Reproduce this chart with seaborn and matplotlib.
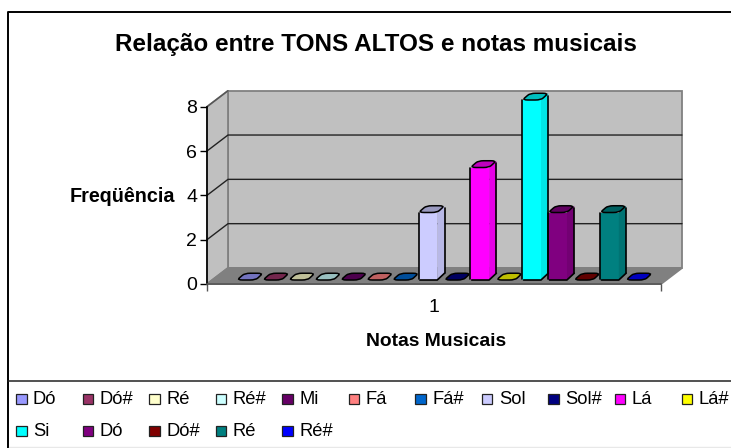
import matplotlib
matplotlib.use("Agg")
import matplotlib.pyplot as plt
from matplotlib.colors import to_rgb
from matplotlib.patches import PathPatch, Polygon, Rectangle
from matplotlib.path import Path
import pandas as pd
import seaborn as sns

# ==================================
# DATA
# ==================================

notas = ["Dó", "Dó#", "Ré", "Ré#", "Mi", "Fá", "Fá#", "Sol", "Sol#", "Lá", "Lá#",
         "Si", "Dó", "Dó#", "Ré", "Ré#"]
frequencia = [0, 0, 0, 0, 0, 0, 0, 3, 0, 5, 0, 8, 3, 0, 3, 0]
cores = ["#9999FF", "#993366", "#FFFFCC", "#CCFFFF", "#660066", "#FF8080", "#0066CC", "#CCCCFF",
         "#000080", "#FF00FF", "#FFFF00", "#00FFFF", "#800080", "#800000", "#008080", "#0000FF"]
y_ticks = [0, 2, 4, 6, 8]
titulo = "Relação entre TONS ALTOS e notas musicais"

W, H = 731, 448


def px_axes(fig, left, top, right, bottom, **kw):
    return fig.add_axes([left / W, 1 - bottom / H, (right - left) / W, (bottom - top) / H], **kw)


def shade(color, k):
    return tuple(c * k for c in to_rgb(color))


def rounded(pts, t=0.3):
    # closed path with each corner replaced by a curve
    verts, codes = [], []
    n = len(pts)
    for i in range(n):
        px0, py0 = pts[i - 1]
        cx, cy = pts[i]
        nx, ny = pts[(i + 1) % n]
        a = (cx + (px0 - cx) * t, cy + (py0 - cy) * t)
        b = (cx + (nx - cx) * t, cy + (ny - cy) * t)
        verts += [a, (cx, cy), b]
        codes += [Path.MOVETO if i == 0 else Path.LINETO, Path.CURVE3, Path.CURVE3]
    verts.append(verts[0])
    codes.append(Path.CLOSEPOLY)
    return Path(verts, codes)


sns.set_style("white")
plt.rcParams["font.family"] = ["Liberation Sans", "DejaVu Sans"]
plt.rcParams["text.color"] = "black"
plt.rcParams["xtick.labelcolor"] = "black"
plt.rcParams["ytick.labelcolor"] = "black"

fig = plt.figure(figsize=(W / 100, H / 100), dpi=100)

# ==================================
# BACKGROUND, WALLS, LEGEND (pixel coordinates)
# ==================================

bg = px_axes(fig, 0, 0, W, H, zorder=0)
bg.set_xlim(0, W)
bg.set_ylim(H, 0)
bg.axis("off")

# chart frame
bg.plot([8, 8, 731], [448, 12, 12], color="black", lw=1.4)
bg.plot([8, 731], [381.5, 381.5], color="#222222", lw=1.1)
bg.plot([9, 731], [447.5, 447.5], color="#E8E8E8", lw=1)

# walls and floor
dx, dy = 21, -16
x0, x1, y0, y8 = 207, 661, 284, 106.7
bg.add_patch(Polygon([(x0 + dx, y8 + dy), (x1 + dx, y8 + dy), (x1 + dx, y0 + dy), (x0 + dx, y0 + dy)],
                     fc="#C0C0C0", ec="#808080", lw=1.3))
bg.add_patch(Polygon([(x0, y8), (x0 + dx, y8 + dy), (x0 + dx, y0 + dy), (x0, y0)],
                     fc="#C0C0C0", ec="#808080", lw=1.3))
bg.add_patch(Polygon([(x0, y0), (x0 + dx, y0 + dy), (x1 + dx, y0 + dy), (x1, y0)],
                     fc="#808080", ec="#808080", lw=1.3))
for t in y_ticks[1:-1]:
    yy = y0 + (y8 - y0) * t / 8
    bg.plot([x0, x0 + dx, x1 + dx], [yy, yy + dy, yy + dy], color="#222222", lw=1)
bg.plot([x0, x0 + dx], [y8, y8 + dy], color="#555555", lw=1)

# legend
for i, (nome, cor) in enumerate(zip(notas, cores)):
    col = i if i < 11 else i - 11
    row = 0 if i < 11 else 1
    lx = 16 + col * 66.55
    ly = 399 + row * 32
    bg.add_patch(Rectangle((lx, ly - 5), 10.5, 10.5, fc=cor, ec="#222222", lw=0.9))
    bg.text(lx + 17, ly + 0.5, nome, fontsize=13.2, va="center", ha="left", color="black")

bg.text(375.5, 44, titulo, fontsize=17.5, fontweight="bold", ha="center", va="center")
bg.text(122.5, 196, "Freqüência", fontsize=14.2, fontweight="bold", ha="center", va="center")
bg.text(436, 341, "Notas Musicais", fontsize=13.9, fontweight="bold", ha="center", va="center")

# ==================================
# VALUE AXIS (front plane)
# ==================================

ax = px_axes(fig, x0, y8, x1, y0, zorder=1)
ax.patch.set_visible(False)
ax.set_xlim(-0.5, 0.5)
ax.set_ylim(0, 8)
ax.set_yticks(y_ticks)
ax.set_xticks([0])
ax.set_xticklabels(["1"])
ax.set_xticks([-0.5, 0.5], minor=True)
ax.tick_params(axis="x", which="major", length=0, labelsize=14, pad=11)
ax.tick_params(axis="x", which="minor", length=5, width=1, color="#555555", bottom=True)
ax.tick_params(axis="y", length=5, width=1, color="black", labelsize=14, pad=2, left=True)
sns.despine(ax=ax)
ax.spines["left"].set_color("black")
ax.spines["bottom"].set_color("#555555")
for s in ("left", "bottom"):
    ax.spines[s].set_linewidth(1.2)

# ==================================
# BARS
# ==================================

df = pd.DataFrame({"serie": range(len(notas)), "valor": frequencia})
bars = px_axes(fig, 237, 100, 652, 280, zorder=2)
sns.barplot(data=df, x="serie", y="valor", hue="serie", palette=cores, dodge=False,
            width=1.0, legend=False, saturation=1, ax=bars)
bars.set_xlim(-0.5, len(notas) - 0.5)
bars.set_ylim(0, 8)
bars.axis("off")

depth = 0.3
for p in list(bars.patches):
    x, w, h = p.get_x(), p.get_width(), p.get_height()
    cor = p.get_facecolor()[:3]
    p.set_width(w * 0.72)
    p.set_edgecolor("none")
    xf = x + w * 0.72
    xe = x + w
    if h > 0:
        bars.add_patch(Polygon([(xf, 0), (xe, depth), (xe, h + depth), (xf, h)],
                               fc=shade(cor, 0.9), ec="none", clip_on=False, zorder=3))
    cap = [(x, h), (x + w * 0.3, h + depth), (xe, h + depth), (xf, h)]
    bars.add_patch(PathPatch(rounded(cap, 0.3), fc=shade(cor, 0.75), ec="black", lw=1.1,
                             clip_on=False, zorder=4))
    if h > 0:
        # body outline
        bars.plot([x, x], [0.06, h], color="black", lw=1.2, zorder=4, clip_on=False)
        bars.plot([xe, xe], [depth, h + depth * 0.6], color="black", lw=1.2, zorder=4, clip_on=False)
        bars.plot([x + 0.05 * w, xf, xe], [0, 0, depth], color="black", lw=1.2, zorder=4, clip_on=False)

fig.savefig("out.png", dpi=100)
plt.close(fig)
